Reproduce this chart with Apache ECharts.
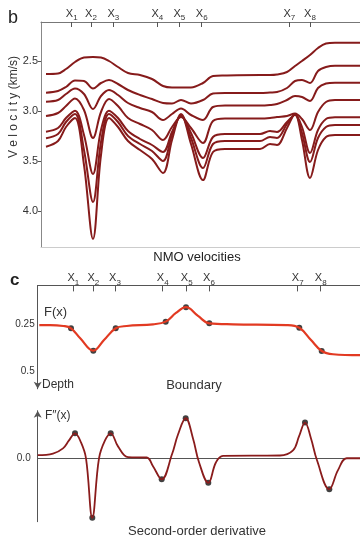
<!DOCTYPE html>
<html><head><meta charset="utf-8">
<script src="https://cdn.jsdelivr.net/npm/echarts@6/dist/echarts.min.js"></script>
<style>html,body{margin:0;padding:0;background:#fff}#c{width:360px;height:538px}</style>
</head><body><div id="c"></div>
<script>
// Panel b: NMO velocities (km/s) along distance
const nmoX = [46,58,66,75,84,93,101,109,118,128,140,152,163,172,181,191,203,213,225,260,270,277,287,295,302,310,318,326,335,360];
const nmoV1 = [2.63,2.625,2.58,2.51,2.465,2.46,2.465,2.50,2.56,2.62,2.64,2.68,2.75,2.765,2.765,2.765,2.72,2.65,2.645,2.64,2.64,2.635,2.61,2.55,2.50,2.44,2.37,2.325,2.317,2.317];
const nmoV2 = [2.817,2.80,2.76,2.695,2.70,2.775,2.72,2.69,2.73,2.79,2.84,2.88,2.92,2.925,2.89,2.925,2.89,2.825,2.82,2.82,2.815,2.81,2.77,2.70,2.69,2.72,2.60,2.56,2.547,2.547];
const nmoV3 = [2.907,2.89,2.83,2.775,2.83,2.98,2.85,2.79,2.84,2.92,2.97,3.01,3.09,3.03,2.975,3.04,3.09,2.96,2.945,2.945,2.94,2.93,2.89,2.85,2.86,2.90,2.77,2.725,2.717,2.717];
const nmoV4 = [3.05,3.02,2.95,2.875,2.99,3.27,3.01,2.88,2.95,3.07,3.13,3.19,3.29,3.16,3.06,3.17,3.32,3.10,3.075,3.075,3.07,3.06,3.05,3.025,3.08,3.19,3.01,2.91,2.89,2.89];
const nmoV5 = [3.207,3.17,3.07,2.997,3.24,3.63,3.19,2.997,3.07,3.20,3.28,3.34,3.41,3.21,3.05,3.22,3.47,3.26,3.23,3.23,3.20,3.21,3.11,3.04,3.16,3.42,3.19,3.08,3.063,3.063];
const nmoV6 = [3.273,3.23,3.11,3.03,3.39,3.91,3.31,3.03,3.11,3.25,3.33,3.40,3.50,3.24,3.04,3.27,3.57,3.33,3.30,3.30,3.26,3.27,3.13,3.035,3.22,3.51,3.27,3.16,3.14,3.14];
const nmoV7 = [3.357,3.30,3.16,3.07,3.54,4.28,3.44,3.07,3.16,3.30,3.39,3.48,3.62,3.29,3.03,3.33,3.69,3.41,3.38,3.38,3.33,3.34,3.17,3.03,3.29,3.67,3.39,3.26,3.24,3.24];
const nmoTickPos = [71.7,91,113.3,157.3,179.3,201.7,289.3,310];
const velTicks = [2.5,3.0,3.5,4.0];

// Panel c: boundary F(x) (depth)
const bndX = [39.3,50,63.3,71,80,93.3,104,115.7,126.7,153,165.7,176,186,198,209.3,233,286.7,299.3,311,321.7,333,360];
const bndF = [0.254,0.254,0.259,0.271,0.322,0.389,0.333,0.271,0.259,0.25,0.236,0.19,0.16,0.206,0.245,0.25,0.254,0.268,0.333,0.391,0.408,0.413];
const bndNodeX = [71,93.3,115.7,165.7,186,209.3,299.3,321.7];
const bndNodeF = [0.271,0.389,0.271,0.236,0.16,0.245,0.268,0.391];
const bndTickPos = [73.3,93.3,115,162.7,186.7,209,297.7,320.7];
const depthTicks = [0.25,0.5];

// Second-order derivative F''(x)
const derX = [37.7,53,63,69,75,81,86,92.3,99,105,110.7,118,128,146.7,153,161.7,172,178,185.7,193,199,208.3,216,223,280,293,299,305,311,317,329.3,338,346.7,360];
const derF = [0.08,0.12,0.25,0.45,0.63,0.4,0.0,-1.5,0.0,0.45,0.63,0.3,0.03,0.02,-0.2,-0.53,0.1,0.6,1.01,0.5,-0.1,-0.62,-0.1,0.06,0.07,0.2,0.55,0.9,0.5,-0.05,-0.78,-0.3,0.0,0.0];
const derNodeX = [75,92.3,110.7,161.7,185.7,208.3,305,329.3];
const derNodeF = [0.63,-1.5,0.63,-0.53,1.01,-0.62,0.9,-0.78];

const zip = (xs, ys) => xs.map((x, i) => [x, ys[i]]);
const FONT = 'Liberation Sans, Arial, sans-serif';
const subRich = {
  a: {fontSize: 11, color: '#333', fontFamily: FONT, verticalAlign: 'bottom', padding: [0, 0, 3, 0]},
  b: {fontSize: 8, color: '#333', fontFamily: FONT, verticalAlign: 'bottom'}
};
function tickFmt(arr) {
  return v => { const i = arr.indexOf(v); return i < 0 ? '' : '{a|X}{b|' + (i + 1) + '}'; };
}

const chart = echarts.init(document.getElementById('c'), null, {renderer: 'canvas'});
const nmoSets = [nmoV1, nmoV2, nmoV3, nmoV4, nmoV5, nmoV6, nmoV7];

const option = {
  animation: false,
  backgroundColor: '#fff',
  grid: [
    {left: 41, top: 22, right: 0, height: 225},
    {left: 37.7, top: 285.4, right: 0, height: 103.4},
    {left: 37.7, top: 410.7, right: 0, height: 111}
  ],
  xAxis: [
    {gridIndex: 0, type: 'value', position: 'top', min: 41, max: 360,
     axisLine: {lineStyle: {color: '#777', width: 1}},
     axisTick: {inside: true, length: 5, customValues: nmoTickPos, lineStyle: {color: '#555'}},
     axisLabel: {customValues: nmoTickPos, formatter: tickFmt(nmoTickPos), rich: subRich, margin: 0},
     splitLine: {show: false}},
    {gridIndex: 0, type: 'value', position: 'bottom', min: 41, max: 360,
     axisLine: {onZero: false, lineStyle: {color: '#ccc', width: 1}},
     axisTick: {show: false}, axisLabel: {show: false}, splitLine: {show: false}},
    {gridIndex: 1, type: 'value', position: 'top', min: 37.7, max: 360,
     axisLine: {onZero: false, lineStyle: {color: '#555', width: 1}},
     axisTick: {inside: true, length: 6, customValues: bndTickPos, lineStyle: {color: '#555'}},
     axisLabel: {customValues: bndTickPos, formatter: tickFmt(bndTickPos), rich: subRich, margin: -1},
     splitLine: {show: false}},
    {gridIndex: 2, type: 'value', min: 37.7, max: 360,
     axisLine: {onZero: true, lineStyle: {color: '#555', width: 1}},
     axisTick: {show: false}, axisLabel: {show: false}, splitLine: {show: false}}
  ],
  yAxis: [
    {gridIndex: 0, type: 'value', inverse: true, min: 2.11, max: 4.36,
     axisLine: {show: true, lineStyle: {color: '#888'}},
     axisTick: {show: true, length: 3, customValues: velTicks, lineStyle: {color: '#555'}},
     axisLabel: {customValues: velTicks, formatter: v => v.toFixed(1), fontSize: 11, color: '#333', fontFamily: FONT, margin: 3},
     splitLine: {show: false}},
    {gridIndex: 1, type: 'value', inverse: true, min: 0.045, max: 0.59,
     axisLine: {show: true, onZero: false, symbol: ['arrow', 'none'], symbolSize: [6, 7], lineStyle: {color: '#555'}},
     axisTick: {show: false},
     axisLabel: {customValues: depthTicks, formatter: v => (v === 0.25 ? '0.25' : '0.5'), fontSize: 10, color: '#333', fontFamily: FONT, margin: 3},
     splitLine: {show: false}},
    {gridIndex: 2, type: 'value', min: -1.6, max: 1.2,
     axisLine: {show: true, onZero: false, symbol: ['none', 'arrow'], symbolSize: [6, 7], lineStyle: {color: '#555'}},
     axisTick: {show: false},
     axisLabel: {customValues: [0], formatter: () => '0.0', fontSize: 10, color: '#333', fontFamily: FONT, margin: 7},
     splitLine: {show: false}}
  ],
  series: [
    ...nmoSets.map(arr => ({
      type: 'line', xAxisIndex: 0, yAxisIndex: 0, data: zip(nmoX, arr),
      smooth: 0.35, showSymbol: false, lineStyle: {color: '#861b1b', width: 2}
    })),
    {type: 'line', xAxisIndex: 2, yAxisIndex: 1, data: zip(bndX, bndF), smooth: 0.4, showSymbol: false,
     lineStyle: {color: '#e23a22', width: 2.2}},
    {type: 'scatter', xAxisIndex: 2, yAxisIndex: 1, data: zip(bndNodeX, bndNodeF), symbolSize: 6,
     itemStyle: {color: '#111'}},
    {type: 'line', xAxisIndex: 3, yAxisIndex: 2, data: zip(derX, derF), smooth: 0.4, showSymbol: false,
     lineStyle: {color: '#8a1c1c', width: 1.8}},
    {type: 'scatter', xAxisIndex: 3, yAxisIndex: 2, data: zip(derNodeX, derNodeF), symbolSize: 6,
     itemStyle: {color: '#111'}}
  ],
  graphic: [
    {type: 'text', left: 8, top: 9, style: {text: 'b', fontSize: 18, fill: '#222', fontFamily: FONT}},
    {type: 'text', x: 14, y: 107, rotation: Math.PI / 2,
     style: {text: 'V e l o c i t y (km/s)', fontSize: 12, fill: '#333', fontFamily: FONT, align: 'center', verticalAlign: 'middle'}},
    {type: 'text', x: 197, y: 257, style: {text: 'NMO velocities', fontSize: 13, fill: '#222', fontFamily: FONT, align: 'center', verticalAlign: 'middle'}},
    {type: 'text', left: 10, top: 272, style: {text: 'c', fontSize: 17, fontWeight: 'bold', fill: '#222', fontFamily: FONT}},
    {type: 'text', x: 44, y: 312, style: {text: 'F(x)', fontSize: 13, fill: '#333', fontFamily: FONT, verticalAlign: 'middle'}},
    {type: 'text', x: 42, y: 385, style: {text: 'Depth', fontSize: 12, fill: '#333', fontFamily: FONT, verticalAlign: 'middle'}},
    {type: 'text', x: 194, y: 385, style: {text: 'Boundary', fontSize: 13, fill: '#333', fontFamily: FONT, align: 'center', verticalAlign: 'middle'}},
    {type: 'text', x: 45, y: 416, style: {text: 'F″(x)', fontSize: 12, fill: '#333', fontFamily: FONT, verticalAlign: 'middle'}},
    {type: 'text', x: 197, y: 531, style: {text: 'Second-order derivative', fontSize: 13, fill: '#333', fontFamily: FONT, align: 'center', verticalAlign: 'middle'}}
  ]
};
chart.setOption(option);
</script></body></html>
